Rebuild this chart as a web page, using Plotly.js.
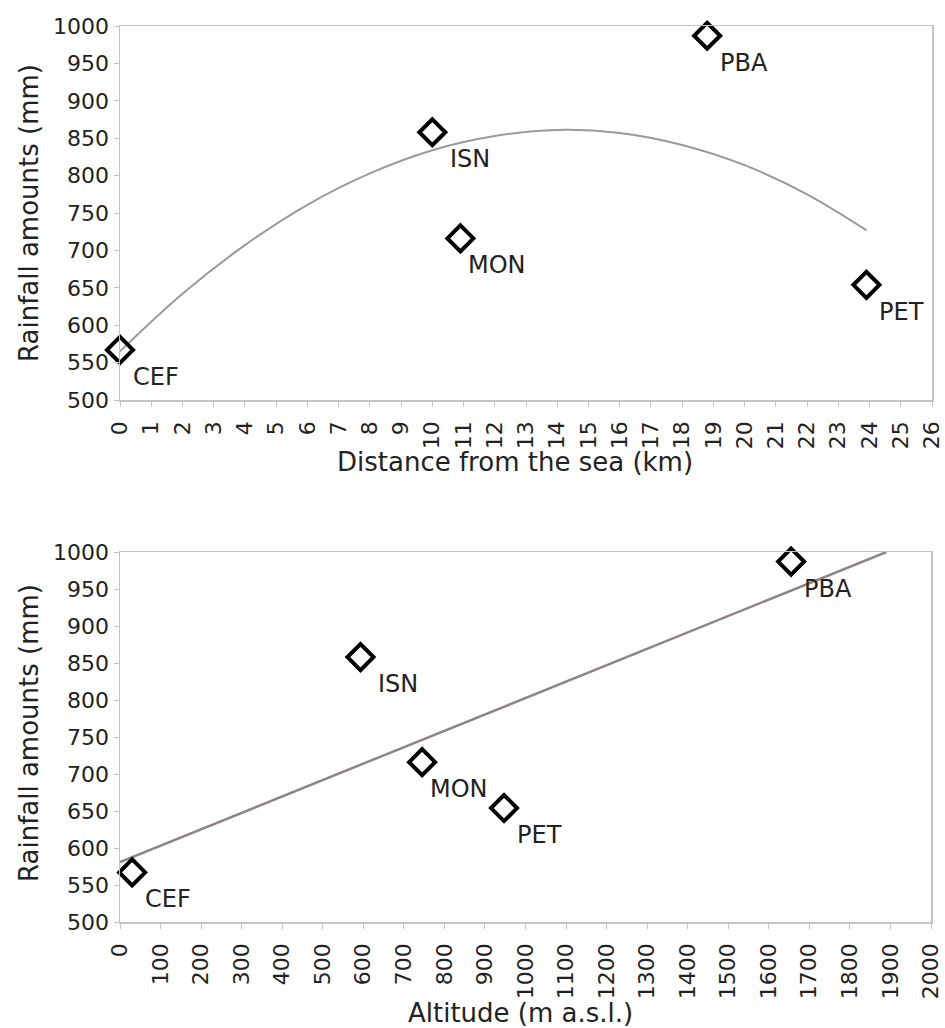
<!DOCTYPE html>
<html>
<head>
<meta charset="utf-8">
<script src="https://cdn.plot.ly/plotly-3.0.1.min.js"></script>
<style>
  html, body { margin: 0; padding: 0; background: #fff; }
  #chart { width: 945px; height: 1028px; }
</style>
</head>
<body>
<div id="chart"></div>
<script>
// ---- Data ----
const stations = ['CEF', 'ISN', 'MON', 'PBA', 'PET'];
const distanceKm = [0, 10.0, 10.9, 18.8, 23.9];
const altitudeM = [30, 593, 745, 1655, 947];
const rainfallMm = [567, 858, 716, 987, 654];

// trend curve of the upper panel
const curveX = [0, 2, 4, 6, 8, 10, 12, 14, 16, 18, 20, 22, 23.9];
const curveY = [565, 642, 707, 761, 803, 834, 853, 861, 857, 841, 814, 775, 727];

// trend line of the lower panel (end points)
const lineX = [0, 1890];
const lineY = [581, 1000];

const xTicksTop = Array.from({length: 27}, (_, i) => i);
const xTicksBottom = Array.from({length: 21}, (_, i) => i * 100);
const yTicks = [500, 550, 600, 650, 700, 750, 800, 850, 900, 950, 1000];

// ---- Styling ----
const FONT = 'DejaVu Sans, Liberation Sans, Arial, sans-serif';
const TXT = '#222';
const labelDx = {CEF: 12, ISN: 17, MON: 7, PBA: 12, PET: 12};

const markerStyle = {
  symbol: 'diamond-open', size: 20, color: '#000',
  line: {color: '#000', width: 4}
};

const traces = [
  {x: curveX, y: curveY, xaxis: 'x', yaxis: 'y', mode: 'lines',
   line: {color: '#9a9a9a', width: 2, shape: 'spline', smoothing: 1}, hoverinfo: 'skip'},
  {x: distanceKm, y: rainfallMm, xaxis: 'x', yaxis: 'y', mode: 'markers',
   marker: markerStyle, cliponaxis: false},
  {x: lineX, y: lineY, xaxis: 'x2', yaxis: 'y2', mode: 'lines',
   line: {color: '#8e8484', width: 2.5}, hoverinfo: 'skip'},
  {x: altitudeM, y: rainfallMm, xaxis: 'x2', yaxis: 'y2', mode: 'markers',
   marker: markerStyle, cliponaxis: false}
];

function axisBase() {
  return {
    showgrid: false, zeroline: false,
    showline: true, linecolor: '#c4c4c4', linewidth: 1.5, mirror: true,
    ticks: 'outside', ticklen: 5, tickcolor: '#c4c4c4', tickwidth: 1,
    ticklabeloverflow: 'allow',
    tickfont: {family: FONT, size: 22, color: TXT}
  };
}

const annotations = [];
function addLabels(xs, xref, yref) {
  stations.forEach((s, i) => {
    annotations.push({
      x: xs[i], y: rainfallMm[i], xref: xref, yref: yref,
      text: s, showarrow: false, xanchor: 'left', yanchor: 'middle',
      xshift: labelDx[s] - 1, yshift: -27,
      font: {family: FONT, size: 24, color: TXT}
    });
  });
}
addLabels(distanceKm, 'x', 'y');
addLabels(altitudeM, 'x2', 'y2');

// axis titles
const titleFont = {family: FONT, size: 26, color: TXT};
annotations.push(
  {text: 'Distance from the sea (km)', xref: 'paper', yref: 'paper',
   x: 515 / 945, y: 1 - 462 / 1028, xanchor: 'center', yanchor: 'middle',
   showarrow: false, font: titleFont},
  {text: 'Rainfall amounts (mm)', xref: 'paper', yref: 'paper',
   x: 29 / 945, y: 1 - 213 / 1028, xanchor: 'center', yanchor: 'middle',
   textangle: -90, showarrow: false, font: titleFont},
  {text: 'Altitude (m a.s.l.)', xref: 'paper', yref: 'paper',
   x: 520 / 945, y: 1 - 1013 / 1028, xanchor: 'center', yanchor: 'middle',
   showarrow: false, font: titleFont},
  {text: 'Rainfall amounts (mm)', xref: 'paper', yref: 'paper',
   x: 29 / 945, y: 1 - 733 / 1028, xanchor: 'center', yanchor: 'middle',
   textangle: -90, showarrow: false, font: titleFont}
);

const layout = {
  width: 945, height: 1028,
  margin: {l: 0, r: 0, t: 0, b: 0},
  paper_bgcolor: '#fff', plot_bgcolor: '#fff',
  showlegend: false,
  xaxis: Object.assign(axisBase(), {
    domain: [120 / 945, 932 / 945], range: [0, 26],
    tickmode: 'array', tickvals: xTicksTop, ticktext: xTicksTop.map(String),
    tickangle: -90, ticklabelstandoff: 6, anchor: 'y'
  }),
  yaxis: Object.assign(axisBase(), {
    domain: [1 - 400 / 1028, 1 - 26 / 1028], range: [500, 1000],
    tickmode: 'array', tickvals: yTicks, ticktext: yTicks.map(String), anchor: 'x'
  }),
  xaxis2: Object.assign(axisBase(), {
    domain: [120 / 945, 931 / 945], range: [0, 2000],
    tickmode: 'array', tickvals: xTicksBottom, ticktext: xTicksBottom.map(String),
    tickangle: -90, ticklabelstandoff: 6, anchor: 'y2'
  }),
  yaxis2: Object.assign(axisBase(), {
    domain: [1 - 922 / 1028, 1 - 552 / 1028], range: [500, 1000],
    tickmode: 'array', tickvals: yTicks, ticktext: yTicks.map(String), anchor: 'x2'
  }),
  annotations: annotations
};

Plotly.newPlot('chart', traces, layout, {displayModeBar: false, staticPlot: true});
</script>
</body>
</html>
